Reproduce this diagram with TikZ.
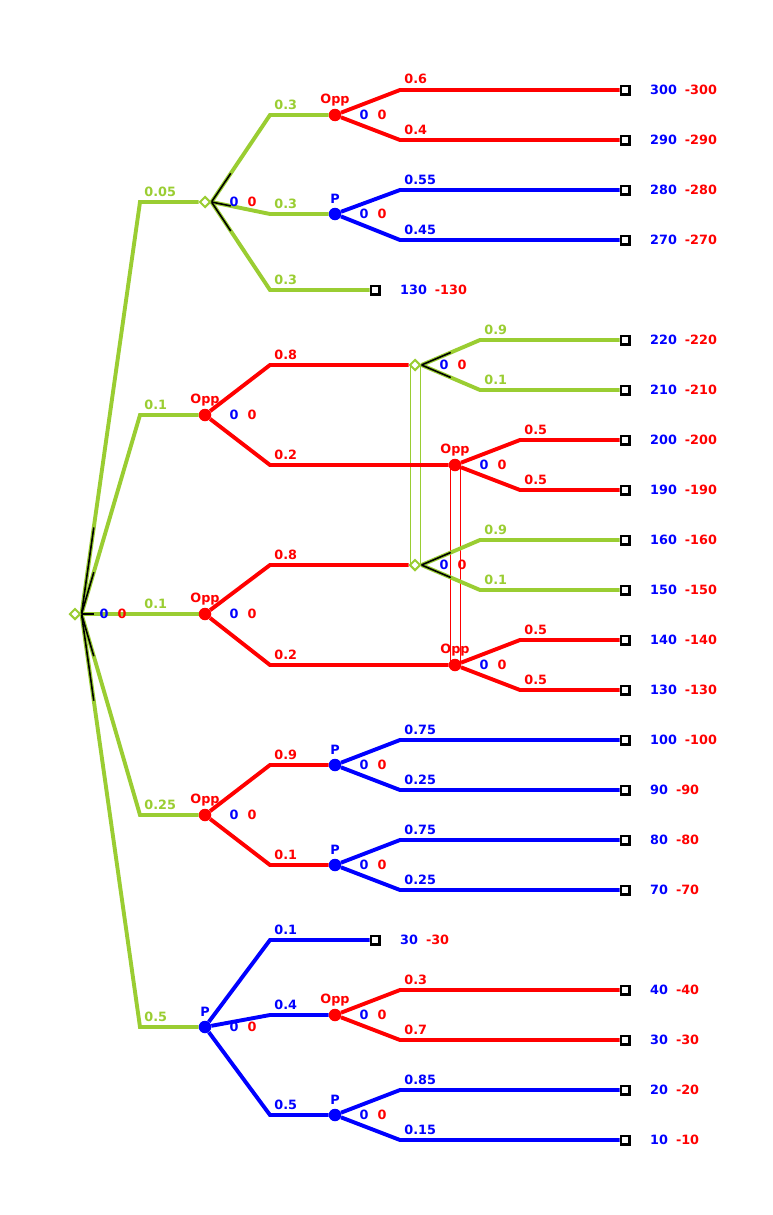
\documentclass[tikz,border=0pt]{standalone}
\usepackage{fontspec}
\setmainfont{DejaVu Sans}
\usetikzlibrary{calc,shapes.geometric}
\definecolor{cgreen}{RGB}{154,205,50}
\pgfdeclarelayer{back}
\pgfsetlayers{back,main}

\begin{document}
\begin{tikzpicture}[x=1pt,y=-1pt,font=\fontsize{12.8}{15}\selectfont\bfseries,
  chance/.style={diamond,draw=cgreen,fill=white,line width=2pt,minimum size=11pt,inner sep=0pt},
  opp/.style={circle,fill=red,minimum size=12.5pt,inner sep=0pt},
  pl/.style={circle,fill=blue,minimum size=12.5pt,inner sep=0pt},
  leaf/.style={rectangle,draw=black,fill=white,line width=2.4pt,minimum size=8.6pt,inner sep=0pt},
  cbr/.style={cgreen,line width=3.9pt},
  obr/.style={red,line width=3.9pt},
  pbr/.style={blue,line width=3.9pt},
  prob/.style={anchor=base west,inner sep=0pt,xshift=2.5pt,yshift=6pt},
  tick/.style={black,line width=1.6pt,xshift=-1.5pt},
  iset/.style={line width=1pt}]
\useasboundingbox (0,0) rectangle (772,1215);

% decision nodes
\node[chance] (r) at (75,614) {};
\node[chance] (a) at (205,202) {};
\node[opp] (b) at (205,415) {};
\node[opp] (c) at (205,614) {};
\node[opp] (d) at (205,815) {};
\node[pl] (e) at (205,1027) {};
\node[opp] (a1) at (335,115) {};
\node[pl] (a2) at (335,214) {};
\node[chance] (b1) at (415,365) {};
\node[opp] (b2) at (455,465) {};
\node[chance] (c1) at (415,565) {};
\node[opp] (c2) at (455,665) {};
\node[pl] (d1) at (335,765) {};
\node[pl] (d2) at (335,865) {};
\node[opp] (e2) at (335,1015) {};
\node[pl] (e3) at (335,1115) {};

\foreach \n in {b,c,d,a1,b2,c2,e2}
  \node[red,anchor=base] (\n-name) at ([yshift=12pt]\n.center) {Opp};
\foreach \n in {e,a2,d1,d2,e3}
  \node[blue,anchor=base] (\n-name) at ([yshift=11pt]\n.center) {P};
\foreach \n in {r,a,b,c,d,e,a1,a2,b1,b2,c1,c2,d1,d2,e2,e3} {
  \node[blue,inner sep=0pt] (\n-u) at ([xshift=29pt]\n.center) {0};
  \node[red,inner sep=0pt] (\n-v) at ([xshift=47pt]\n.center) {0};
}

% outcomes
\foreach \n/\x/\y/\u/\v in {a11/625/90/300/-300, a12/625/140/290/-290,
    a21/625/190/280/-280, a22/625/240/270/-270, a3/375/290/130/-130,
    b11/625/340/220/-220, b12/625/390/210/-210, b21/625/440/200/-200,
    b22/625/490/190/-190, c11/625/540/160/-160, c12/625/590/150/-150,
    c21/625/640/140/-140, c22/625/690/130/-130, d11/625/740/100/-100,
    d12/625/790/90/-90, d21/625/840/80/-80, d22/625/890/70/-70,
    e1/375/940/30/-30, e21/625/990/40/-40, e22/625/1040/30/-30,
    e31/625/1090/20/-20, e32/625/1140/10/-10} {
  \node[leaf] (\n) at (\x,\y) {};
  \node[anchor=west,inner sep=0pt] (\n-p) at ([xshift=25pt]\n.center)
    {\textcolor{blue}{\u}\hspace{8pt}\textcolor{red}{\v}};
}

\begin{pgfonlayer}{back}
% information sets
\draw[iset,cgreen] ([xshift=-5pt]b1.center) -- ([xshift=-5pt]c1.center)
  ([xshift=5pt]b1.center) -- ([xshift=5pt]c1.center);
\draw[iset,red] ([xshift=-5pt]b2.center) -- ([xshift=-5pt]c2.center)
  ([xshift=5pt]b2.center) -- ([xshift=5pt]c2.center);

\foreach \f/\x/\y/\t/\l/\s in {r.east/140/202/a/0.05/cbr, r.east/140/415/b/0.1/cbr,
    r.east/140/614/c/0.1/cbr, r.east/140/815/d/0.25/cbr, r.east/140/1027/e/0.5/cbr,
    a.east/270/115/a1/0.3/cbr, a.east/270/214/a2/0.3/cbr, a.east/270/290/a3/0.3/cbr,
    b/270/365/b1/0.8/obr, b/270/465/b2/0.2/obr,
    c/270/565/c1/0.8/obr, c/270/665/c2/0.2/obr,
    d/270/765/d1/0.9/obr, d/270/865/d2/0.1/obr,
    e/270/940/e1/0.1/pbr, e/270/1015/e2/0.4/pbr, e/270/1115/e3/0.5/pbr,
    a1/400/90/a11/0.6/obr, a1/400/140/a12/0.4/obr,
    a2/400/190/a21/0.55/pbr, a2/400/240/a22/0.45/pbr,
    b1.east/480/340/b11/0.9/cbr, b1.east/480/390/b12/0.1/cbr,
    b2/520/440/b21/0.5/obr, b2/520/490/b22/0.5/obr,
    c1.east/480/540/c11/0.9/cbr, c1.east/480/590/c12/0.1/cbr,
    c2/520/640/c21/0.5/obr, c2/520/690/c22/0.5/obr,
    d1/400/740/d11/0.75/pbr, d1/400/790/d12/0.25/pbr,
    d2/400/840/d21/0.75/pbr, d2/400/890/d22/0.25/pbr,
    e2/400/990/e21/0.3/obr, e2/400/1040/e22/0.7/obr,
    e3/400/1090/e31/0.85/pbr, e3/400/1140/e32/0.15/pbr}
  \draw[\s] (\f) -- (\x,\y) coordinate (\t-k) node[prob] (\t-l) {\l} -- (\t);

% chance markers
\foreach \n/\t/\p in {r/a/0.21, r/b/0.21, r/c/0.21, r/d/0.21, r/e/0.21,
    a/a1/0.33, a/a2/0.33, a/a3/0.33, b1/b11/0.5, b1/b12/0.5, c1/c11/0.5, c1/c12/0.5}
  \draw[tick] (\n.east) -- ($(\n.east)!\p!(\t-k)$);
\end{pgfonlayer}
\end{tikzpicture}
\end{document}
